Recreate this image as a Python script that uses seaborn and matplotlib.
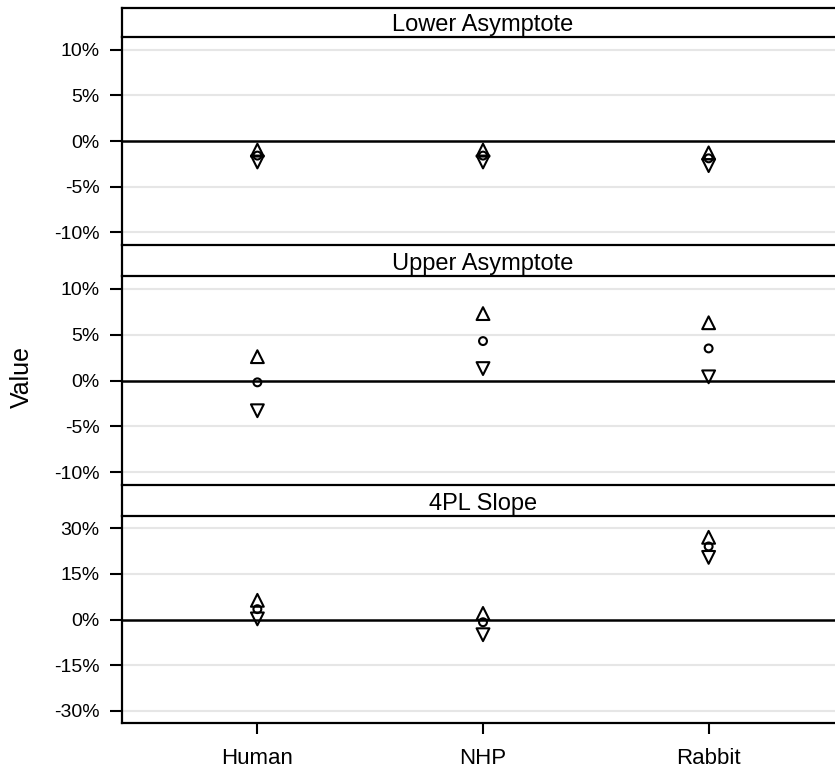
import numpy as np
import pandas as pd
import matplotlib
matplotlib.use("Agg")
import matplotlib.pyplot as plt
import seaborn as sns

# Species compared on the x axis
species = ["Human", "NHP", "Rabbit"]

# Panel titles (one per model parameter)
params = ["Lower Asymptote", "Upper Asymptote", "4PL Slope"]

# Relative differences (%) per parameter: point estimate and interval bounds
lower_asym_est = [-1.6, -1.6, -1.9]
lower_asym_lo = [-2.3, -2.3, -2.7]
lower_asym_hi = [-1.0, -1.0, -1.3]

upper_asym_est = [-0.2, 4.3, 3.5]
upper_asym_lo = [-3.3, 1.3, 0.4]
upper_asym_hi = [2.6, 7.3, 6.3]

slope_est = [3.4, -0.9, 24.0]
slope_lo = [0.2, -5.0, 20.4]
slope_hi = [6.3, 2.0, 27.0]

# Tick values per panel
ticks_small = [-10, -5, 0, 5, 10]
ticks_large = [-30, -15, 0, 15, 30]

panel_data = [
    (lower_asym_est, lower_asym_lo, lower_asym_hi, ticks_small, 11.4),
    (upper_asym_est, upper_asym_lo, upper_asym_hi, ticks_small, 11.4),
    (slope_est, slope_lo, slope_hi, ticks_large, 34.0),
]

sns.set_theme(style="white")
plt.rcParams["font.family"] = ["Liberation Sans", "DejaVu Sans"]
plt.rcParams["text.color"] = "black"
plt.rcParams["xtick.labelcolor"] = "black"
plt.rcParams["ytick.labelcolor"] = "black"

W, H = 835, 774
fig = plt.figure(figsize=(W / 100, H / 100), dpi=100)

x_left = 122
x_right = 844
strip_tops = [8, 245, 485]
panel_tops = [37, 276, 516]
panel_bots = [245, 485, 723]

def fx(px):
    return px / W

def fy(py):
    return 1 - py / H

for i, (title, (est, lo, hi, ticks, lim)) in enumerate(zip(params, panel_data)):
    ax = fig.add_axes([fx(x_left), fy(panel_bots[i]), fx(x_right - x_left),
                       (panel_bots[i] - panel_tops[i]) / H])
    ax.patch.set_facecolor("none")
    df = pd.DataFrame({"species": species, "est": est, "lo": lo, "hi": hi})

    for t in ticks:
        if t == 0:
            ax.axhline(0, color="black", lw=1.8, zorder=1)
        else:
            ax.axhline(t, color="#e6e6e6", lw=1.5, zorder=0)

    sns.scatterplot(data=df, x="species", y="hi", marker="^", s=85,
                    facecolor="none", edgecolor="black", linewidth=1.5, ax=ax, zorder=3)
    sns.scatterplot(data=df, x="species", y="est", marker="o", s=32,
                    facecolor="none", edgecolor="black", linewidth=1.5, ax=ax, zorder=3)
    sns.scatterplot(data=df, x="species", y="lo", marker="v", s=85,
                    facecolor="none", edgecolor="black", linewidth=1.5, ax=ax, zorder=3)

    ax.set_xlim(-0.6, 2.6)
    ax.set_ylim(-lim, lim)
    ax.set_yticks(ticks)
    ax.set_yticklabels([f"{t:g}%" for t in ticks], fontsize=14, color="black")
    ax.set_ylabel("")
    ax.set_xlabel("")
    ax.spines["top"].set_visible(False)
    ax.spines["right"].set_visible(False)
    ax.spines["left"].set_color("black")
    ax.spines["left"].set_linewidth(1.6)
    ax.spines["bottom"].set_color("black")
    ax.spines["bottom"].set_linewidth(1.6)
    ax.tick_params(axis="y", left=True, length=8.5, width=1.5, color="black", pad=7.5)
    if i < 2:
        ax.set_xticks([])
        ax.spines["bottom"].set_visible(False)
    else:
        ax.set_xticks(range(len(species)))
        ax.set_xticklabels(species, fontsize=16, color="black")
        ax.tick_params(axis="x", bottom=True, length=8, width=1.5, color="black", pad=10)

    # strip with the parameter name, drawn above the panel
    sax = fig.add_axes([fx(x_left), fy(panel_tops[i]), fx(x_right - x_left),
                        (panel_tops[i] - strip_tops[i]) / H])
    sax.patch.set_facecolor("none")
    sax.set_xlim(0, 1)
    sax.set_ylim(0, 1)
    sax.set_xticks([])
    sax.set_yticks([])
    for side in ["top", "bottom", "left"]:
        sax.spines[side].set_color("black")
        sax.spines[side].set_linewidth(1.6)
    sax.spines["right"].set_visible(False)
    sax.text(0.5, 0.2, title, ha="center", va="baseline", fontsize=17,
             color="black", clip_on=False, zorder=5)

fig.text(fx(22), fy(377), "Value", rotation=90, ha="center", va="center",
         fontsize=18, color="black")

fig.savefig("out.png", dpi=100)
